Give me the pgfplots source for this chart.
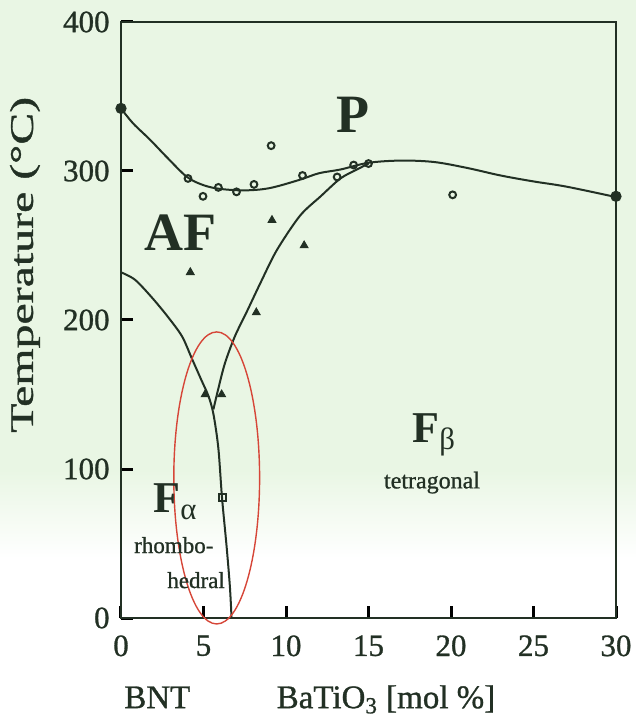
\documentclass[border=0pt]{standalone}
\usepackage{fontspec}
\setmainfont{Liberation Serif}
\newfontfamily\heavy[FakeBold=0.9]{Liberation Serif}
\usepackage{pgfplots}
\pgfplotsset{compat=1.18}

\definecolor{ink}{RGB}{34,48,36}
\definecolor{ring}{RGB}{214,70,56}
\definecolor{paper}{RGB}{233,246,228}

\begin{document}
\begin{tikzpicture}
% pale paper tone behind the diagram, fading to white at the foot
\fill[paper] (-60.5pt,74pt) rectangle (257.5pt,309pt);
\shade[top color=paper, bottom color=white] (-60.5pt,30pt) rectangle (257.5pt,74pt);

\begin{axis}[
  at={(0pt,0pt)}, anchor=south west,
  scale only axis, width=247.5pt, height=298pt,
  xmin=0, xmax=30, ymin=0, ymax=400,
  xtick={0,5,...,30}, ytick={0,100,...,400},
  tick pos=left, tick align=inside,
  major tick length=6pt,
  axis line style={ink, line width=1.1pt},
  every major tick/.append style={draw=black, line width=1.5pt},
  /pgf/number format/assume math mode=true,
  every tick label/.append style={font=\heavy\fontsize{15.5}{16}\selectfont, text=ink},
  xticklabel style={anchor=north, inner sep=0pt, yshift=-8.5pt},
  yticklabel style={anchor=east, inner sep=0pt, xshift=-5.5pt},
  clip mode=individual,
]

% phase boundary P / AF
\addplot[ink, line width=1pt, smooth, tension=0.55] coordinates {
  (0,342) (0.73,332) (1.76,321) (2.8,309) (4,296) (5,290.5) (6,288)
  (7.5,287) (9,288.5) (10.8,294) (12,298.5) (13.3,301) (15,305.5)
  (17,307) (19,306) (21,302) (23,297) (25,293) (27,289.5) (30,282.5)
};
% boundary AF / F-alpha
\addplot[ink, line width=1pt, smooth, tension=0.5] coordinates {
  (0,232) (0.85,227) (1.88,215) (2.85,202) (3.7,189) (4.3,174)
  (4.9,159) (5.3,149) (5.6,137) (5.9,114) (6.12,81) (6.4,48)
  (6.6,21) (6.7,0)
};
% boundary towards F-beta
\addplot[ink, line width=1pt, smooth, tension=0.5] coordinates {
  (5.6,140) (5.9,154) (6.3,171) (6.9,189) (7.6,205) (8.5,226)
  (9.45,247) (10.85,270) (12.1,283) (13.3,295) (14.3,301) (15,305)
};

% measured transition points
\addplot[only marks, mark=*, mark size=2.6pt, ink, clip marker paths=false] coordinates {
  (0,342) (30,283)
};
\addplot[only marks, mark=o, mark size=1.7pt, ink,
  mark options={line width=1pt, fill=white}] coordinates {
  (4.06,295) (4.97,283) (5.9,289) (7.0,286) (8.06,291) (9.1,317)
  (11.0,297) (13.1,296) (14.1,304) (15.0,305) (20.1,284)
};
\addplot[only marks, mark=triangle*, mark size=2.3pt, ink] coordinates {
  (4.2,232) (5.1,150) (6.1,150) (8.2,205) (9.15,267) (11.1,250)
};
\addplot[only marks, mark=square, mark size=1.8pt, ink,
  mark options={line width=0.9pt}] coordinates {
  (6.15,81)
};

% morphotropic region marker
\draw[ring, line width=0.7pt] (axis cs:5.8,94) ellipse [x radius=2.6, y radius=98];

% phase labels
\node[text=ink, font=\fontsize{27}{28}\selectfont\bfseries] at (axis cs:3.58,258.4) {AF};
\node[text=ink, font=\fontsize{27}{28}\selectfont\bfseries] at (axis cs:14.06,337.6) {P};
\node[text=ink, anchor=base west, inner sep=0pt, font=\fontsize{22}{23}\selectfont]
  at (axis cs:1.94,70.5) {\textbf{F}\textsubscript{α}};
\node[text=ink, anchor=base, inner sep=0pt, font=\heavy\fontsize{11.5}{12}\selectfont]
  at (axis cs:3.2,43.6) {rhombo-};
\node[text=ink, anchor=base, inner sep=0pt, font=\heavy\fontsize{11.5}{12}\selectfont]
  at (axis cs:4.55,20.1) {hedral};
\node[text=ink, anchor=base west, inner sep=0pt, font=\fontsize{22}{23}\selectfont]
  at (axis cs:17.64,118) {\textbf{F}\textsubscript{β}};
\node[text=ink, anchor=base, inner sep=0pt, font=\heavy\fontsize{12}{13}\selectfont]
  at (axis cs:18.85,87) {tetragonal};

% axis titles
\node[text=ink, rotate=90, xscale=1.45, font=\heavy\fontsize{16.5}{17}\selectfont]
  at (axis cs:-5.82,237) {Temperature (°C)};
\node[text=ink, anchor=base, inner sep=0pt, font=\heavy\fontsize{16.5}{17}\selectfont]
  at (axis cs:2.2,-60.5) {BNT};
\node[text=ink, anchor=base, inner sep=0pt, font=\heavy\fontsize{16.5}{17}\selectfont]
  at (axis cs:16.06,-60.5) {BaTiO\textsubscript{3} [mol \%]};
\end{axis}

\pgfresetboundingbox
\path[use as bounding box] (-60.5pt,-50pt) rectangle (257.5pt,309pt);
\end{tikzpicture}
\end{document}
